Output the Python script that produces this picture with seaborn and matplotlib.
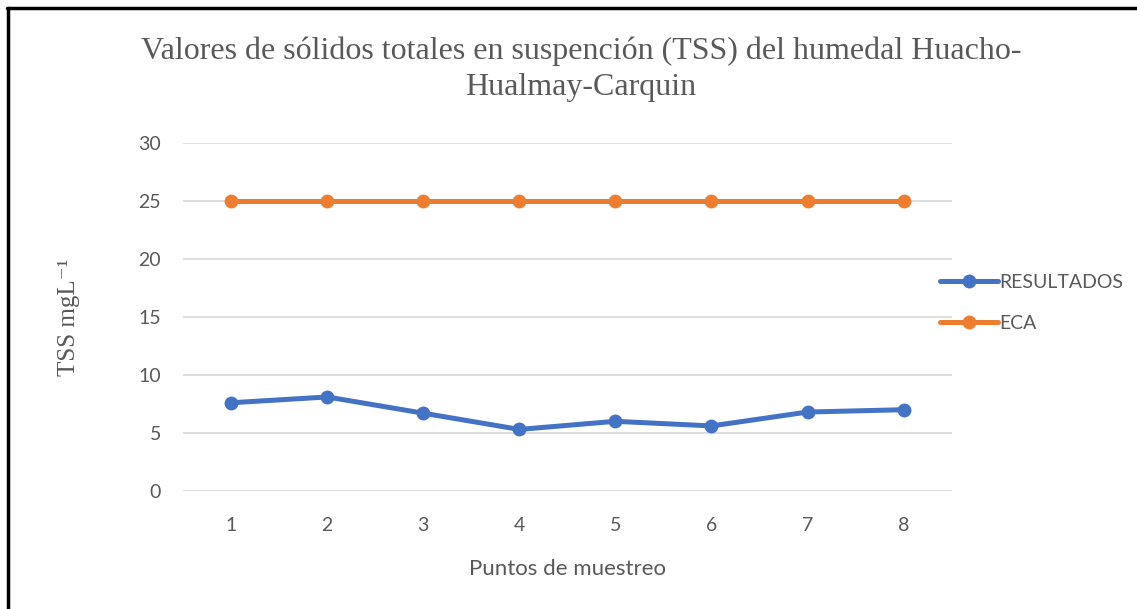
import pandas as pd
import matplotlib.pyplot as plt
import seaborn as sns
from matplotlib.lines import Line2D

# datos
puntos = [1, 2, 3, 4, 5, 6, 7, 8]
resultados = [7.6, 8.1, 6.7, 5.3, 6.0, 5.6, 6.8, 7.0]
eca = [25, 25, 25, 25, 25, 25, 25, 25]
series = ["RESULTADOS", "ECA"]
colores = ["#4472C4", "#ED7D31"]

df = pd.DataFrame({
    "Punto": puntos * 2,
    "Valor": resultados + eca,
    "Serie": [series[0]] * len(puntos) + [series[1]] * len(puntos),
})

sns.set_style("white")
gris = "#595959"

fig = plt.figure(figsize=(11.37, 6.09), dpi=100)
ax = fig.add_axes([0.161, 0.194, 0.676, 0.571])

sns.lineplot(data=df, x="Punto", y="Valor", hue="Serie", palette=colores,
             marker="o", markersize=10, markeredgewidth=0, linewidth=3.6,
             ax=ax)

ax.set_xlim(0.5, 8.5)
ax.set_ylim(0, 30)
ax.set_xticks(puntos)
ax.set_yticks(range(0, 31, 5))
ax.yaxis.grid(True, color="#D9D9D9", linewidth=1.2)
ax.set_axisbelow(True)
for s in ax.spines.values():
    s.set_visible(False)
ax.tick_params(axis="y", length=0, labelsize=14, labelcolor=gris, pad=16)
ax.tick_params(axis="x", length=0, labelsize=14, labelcolor=gris, pad=19)
for lab in ax.get_xticklabels() + ax.get_yticklabels():
    lab.set_family("Lato")

ax.set_xlabel("Puntos de muestreo", fontsize=16, color=gris, family="Lato", labelpad=18)
ax.set_ylabel("TSS mgL⁻¹", fontsize=18, color=gris,
              family=["Liberation Serif", "DejaVu Serif"], labelpad=42)

fig.text(0.511, 0.886, "Valores de sólidos totales en suspención (TSS) del humedal Huacho-\nHualmay-Carquin",
         ha="center", va="center", fontsize=23, color=gris, family="Liberation Serif",
         linespacing=1.3)

ax.legend(loc="center left", bbox_to_anchor=(0.811, 0.503), bbox_transform=fig.transFigure,
          frameon=False, handlelength=3.0, handletextpad=0.05, labelspacing=1.25,
          labelcolor=gris, prop={"family": "Lato", "size": 14})

# marco del cuadro (solo borde superior e izquierdo visibles)
fig.add_artist(Line2D([0.007, 0.007], [0, 0.987], transform=fig.transFigure, color="black", linewidth=2.5))
fig.add_artist(Line2D([0.006, 1], [0.987, 0.987], transform=fig.transFigure, color="black", linewidth=2.5))

fig.savefig("out.png", dpi=100)
